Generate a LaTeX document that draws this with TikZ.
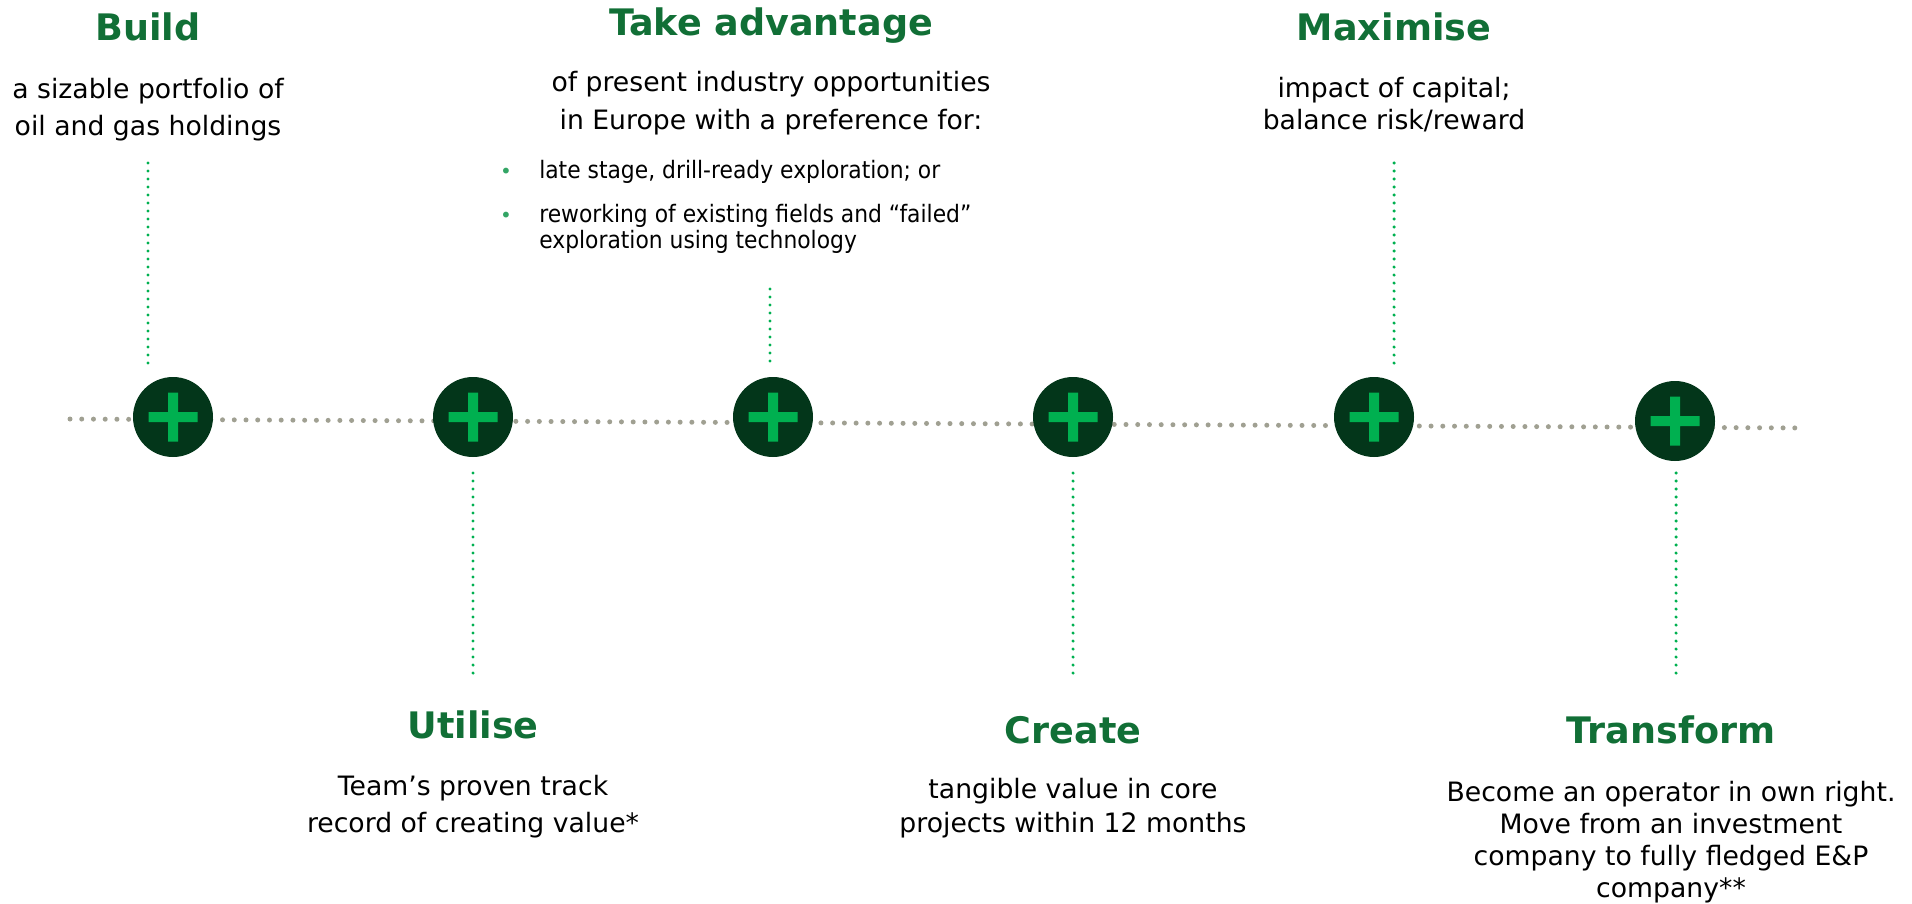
\documentclass[tikz,border=0pt]{standalone}
\usepackage{fontspec}
\setmainfont{DejaVu Sans}
\newfontfamily\bulletfont[FakeStretch=0.91]{DejaVu Sans}
\usepackage{tikz}
\definecolor{headgreen}{HTML}{116F36}
\definecolor{stagefill}{HTML}{03361A}
\definecolor{plusgreen}{HTML}{00B050}
\definecolor{dotgrey}{HTML}{A0A092}
\definecolor{bulletgreen}{HTML}{33A565}
\tikzstyle{stagedot} = [circle, fill=stagefill, inner sep=0pt, minimum size=60pt]
\tikzstyle{headtxt} = [anchor=base, inner sep=0pt, text=headgreen, font=\fontsize{27.4pt}{33pt}\selectfont\bfseries]
\tikzstyle{bodytxt} = [anchor=base, inner sep=0pt, font=\fontsize{20pt}{24pt}\selectfont]
\tikzstyle{itemtxt} = [anchor=base west, inner sep=0pt, font=\bulletfont\fontsize{18pt}{22pt}\selectfont]
\tikzstyle{bullettxt} = [anchor=base, inner sep=0pt, text=bulletgreen, font=\fontsize{15pt}{18pt}\selectfont]
\tikzstyle{timeline} = [dotgrey, line width=3.75pt, line cap=round, dash pattern=on 0pt off 8.8pt]
\tikzstyle{dropline} = [plusgreen, line width=2.6pt, line cap=round, dash pattern=on 0pt off 6pt]

\begin{document}
\begin{tikzpicture}[x=0.75pt, y=-0.75pt]
	\useasboundingbox (0,0) rectangle (1912,903);
	% timeline
	\coordinate (tlstart) at (70,419);
	\coordinate (tlend) at (1805,428);
	\draw[timeline] (tlstart) -- (tlend);
	% stages
	\node[stagedot] (build) at (173,417) {};
	\node[stagedot] (utilise) at (473,417) {};
	\node[stagedot] (advantage) at (773,417) {};
	\node[stagedot] (create) at (1073,417) {};
	\node[stagedot] (maximise) at (1374,417) {};
	\node[stagedot] (transform) at (1675,421) {};
	\foreach \s in {build,utilise,advantage,create,maximise,transform}
		\fill[plusgreen] (\s) ++(-24.5,-5) rectangle ++(49,10) (\s) ++(-5,-24.5) rectangle ++(10,49);
	% drop lines
	\coordinate (buildtop) at (148,163);
	\coordinate (buildfoot) at (148,363);
	\draw[dropline] (buildtop) -- (buildfoot);
	\coordinate (advtop) at (770,289);
	\coordinate (advfoot) at (770,363);
	\draw[dropline] (advtop) -- (advfoot);
	\coordinate (maxtop) at (1394,163);
	\coordinate (maxfoot) at (1394,363);
	\draw[dropline] (maxtop) -- (maxfoot);
	\coordinate (utiltop) at (473,473);
	\coordinate (utilfoot) at (473,680);
	\draw[dropline] (utiltop) -- (utilfoot);
	\coordinate (createtop) at (1073,473);
	\coordinate (createfoot) at (1073,680);
	\draw[dropline] (createtop) -- (createfoot);
	\coordinate (transtop) at (1676,473);
	\coordinate (transfoot) at (1676,680);
	\draw[dropline] (transtop) -- (transfoot);
	% upper texts
	\node[headtxt] (buildhead) at (148,40) {Build};
	\node[bodytxt] (buildl1) at (148,98) {a sizable portfolio of};
	\node[bodytxt] (buildl2) at (148,135) {oil and gas holdings};
	\node[headtxt] (advhead) at (771,35) {Take advantage};
	\node[bodytxt] (advl1) at (771,91) {of present industry opportunities};
	\node[bodytxt] (advl2) at (771,129) {in Europe with a preference for:};
	\node[bullettxt] (advb1) at (506,178) {•};
	\node[itemtxt] (advi1) at (539,178) {late stage, drill-ready exploration; or};
	\node[bullettxt] (advb2) at (506,222) {•};
	\node[itemtxt] (advi2) at (539,222) {reworking of existing fields and “failed”};
	\node[itemtxt] (advi3) at (539,248) {exploration using technology};
	\node[headtxt] (maxhead) at (1394,40) {Maximise};
	\node[bodytxt] (maxl1) at (1394,97) {impact of capital;};
	\node[bodytxt] (maxl2) at (1394,129) {balance risk/reward};
	% lower texts
	\node[headtxt] (utilhead) at (473,738) {Utilise};
	\node[bodytxt] (utill1) at (473,795) {Team’s proven track};
	\node[bodytxt] (utill2) at (473,832) {record of creating value*};
	\node[headtxt] (createhead) at (1073,743) {Create};
	\node[bodytxt] (createl1) at (1073,798) {tangible value in core};
	\node[bodytxt] (createl2) at (1073,832) {projects within 12 months};
	\node[headtxt] (transhead) at (1671,743) {Transform};
	\node[bodytxt] (transl1) at (1671,801) {Become an operator in own right.};
	\node[bodytxt] (transl2) at (1671,833) {Move from an investment};
	\node[bodytxt] (transl3) at (1671,865) {company to fully fledged E\&P};
	\node[bodytxt] (transl4) at (1671,897) {company**};
\end{tikzpicture}
\end{document}
